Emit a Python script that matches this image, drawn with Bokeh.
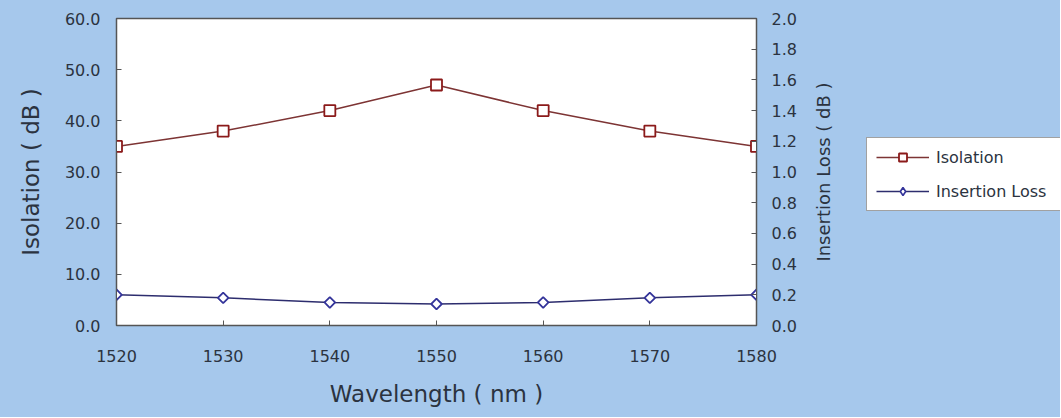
import numpy as np
from bokeh.plotting import figure
from bokeh.layouts import row
from bokeh.models import (LinearAxis, Range1d, Legend, LegendItem, FixedTicker,
                          NumeralTickFormatter)
from bokeh.embed import file_html
from bokeh.resources import INLINE

wavelength = [1520, 1530, 1540, 1550, 1560, 1570, 1580]
isolation = [35, 38, 42, 47, 42, 38, 35]
insertion_loss = [0.20, 0.18, 0.15, 0.14, 0.15, 0.18, 0.20]
x_ticks = [1520, 1530, 1540, 1550, 1560, 1570, 1580]
left_ticks = [0, 10, 20, 30, 40, 50, 60]
right_ticks = [0.0, 0.2, 0.4, 0.6, 0.8, 1.0, 1.2, 1.4, 1.6, 1.8, 2.0]

BG = "#A6C8EC"
FONT = "DejaVu Sans"
TXT = "#2b3340"
ISO_LINE, ISO_MARK = "#7d3434", "#8b1a1a"
IL_LINE, IL_MARK = "#2d2d6e", "#34349a"

p = figure(width=800, height=417, output_backend="svg", toolbar_location=None,
           x_range=Range1d(1520, 1580), y_range=Range1d(0, 60),
           frame_width=640, frame_height=307,
           min_border_left=116, min_border_right=44, min_border_top=18, min_border_bottom=92)
p.background_fill_color = "white"
p.border_fill_color = BG
p.outline_line_color = "#555555"
p.outline_line_width = 1.5
p.xgrid.visible = False
p.ygrid.visible = False
p.extra_y_ranges = {"il": Range1d(0, 2)}

def style(ax):
    ax.major_tick_in = 5
    ax.major_tick_out = 0
    ax.minor_tick_in = 0
    ax.minor_tick_out = 0
    ax.axis_line_color = "#555555"
    ax.major_tick_line_color = "#555555"
    ax.major_label_text_font = FONT
    ax.major_label_text_font_size = "16px"
    ax.major_label_text_color = TXT
    ax.axis_label_text_font = FONT
    ax.axis_label_text_font_style = "normal"
    ax.axis_label_text_color = TXT

xa = p.xaxis[0]
style(xa)
xa.ticker = FixedTicker(ticks=x_ticks)
xa.axis_label = "Wavelength ( nm )"
xa.axis_label_text_font_size = "23px"
xa.major_label_standoff = 24
xa.axis_label_standoff = 16

ya = p.yaxis[0]
style(ya)
ya.ticker = FixedTicker(ticks=left_ticks)
ya.formatter = NumeralTickFormatter(format="0.0")
ya.axis_label = "Isolation ( dB )"
ya.axis_label_text_font_size = "23px"
ya.major_label_standoff = 16
ya.axis_label_standoff = 18

ra = LinearAxis(y_range_name="il")
style(ra)
ra.ticker = FixedTicker(ticks=right_ticks)
ra.formatter = NumeralTickFormatter(format="0.0")
ra.major_label_standoff = 15
p.add_layout(ra, "right")

p.line(wavelength, isolation, line_color=ISO_LINE, line_width=1.5)
p.scatter(wavelength, isolation, marker="square", size=11, fill_color="white",
          line_color=ISO_MARK, line_width=1.8)
p.line(wavelength, insertion_loss, y_range_name="il", line_color=IL_LINE, line_width=1.5)
p.scatter(wavelength, insertion_loss, y_range_name="il", marker="square", angle=np.pi / 4,
          size=7.5, fill_color="white", line_color=IL_MARK, line_width=1.8)

# side panel: right-axis title (reading bottom-to-top) and the legend
p2 = figure(width=260, height=417, output_backend="svg", toolbar_location=None,
            x_range=Range1d(0, 1), y_range=Range1d(0, 1), x_axis_location=None,
            frame_width=226, frame_height=307,
            min_border_left=34, min_border_right=0, min_border_top=18, min_border_bottom=92)
p2.background_fill_alpha = 0
p2.border_fill_color = BG
p2.outline_line_color = None
p2.xgrid.visible = False
p2.ygrid.visible = False
ya2 = p2.yaxis[0]
ya2.ticker = FixedTicker(ticks=[])
ya2.axis_line_color = None
ya2.major_tick_line_color = None
ya2.minor_tick_line_color = None
ya2.major_label_text_font_size = "0px"
ya2.axis_label = "Insertion Loss ( dB )"
ya2.axis_label_text_font = FONT
ya2.axis_label_text_font_style = "normal"
ya2.axis_label_text_font_size = "18px"
ya2.axis_label_text_color = TXT
ya2.axis_label_standoff = 1

# legend proxies: same series, lying outside this panel's view (only their legend glyphs show)
l1 = p2.line(wavelength, isolation, line_color=ISO_LINE, line_width=1.5)
m1 = p2.scatter(wavelength, isolation, marker="square", size=11, fill_color="white",
                line_color=ISO_MARK, line_width=1.8)
l2 = p2.line(wavelength, insertion_loss, line_color=IL_LINE, line_width=1.5)
m2 = p2.scatter(wavelength, insertion_loss, marker="diamond", size=11,
                fill_color="white", line_color=IL_MARK, line_width=1.6)

legend = Legend(items=[LegendItem(label="Isolation", renderers=[l1, m1]),
                       LegendItem(label="Insertion Loss", renderers=[l2, m2])],
                location=(32, 114))
legend.background_fill_color = "white"
legend.background_fill_alpha = 1.0
legend.border_line_color = "#444444"
legend.border_line_width = 1.2
legend.label_text_font = FONT
legend.label_text_font_size = "16px"
legend.label_text_color = TXT
legend.glyph_width = 53
legend.glyph_height = 20
legend.label_height = 20
legend.label_width = 130
legend.label_standoff = 7
legend.spacing = 14
legend.padding = 9
legend.margin = 0
p2.add_layout(legend, "center")

layout = row(p, p2, spacing=0)
layout.styles = {"background-color": BG}
open("out.html", "w").write(file_html(layout, INLINE))
